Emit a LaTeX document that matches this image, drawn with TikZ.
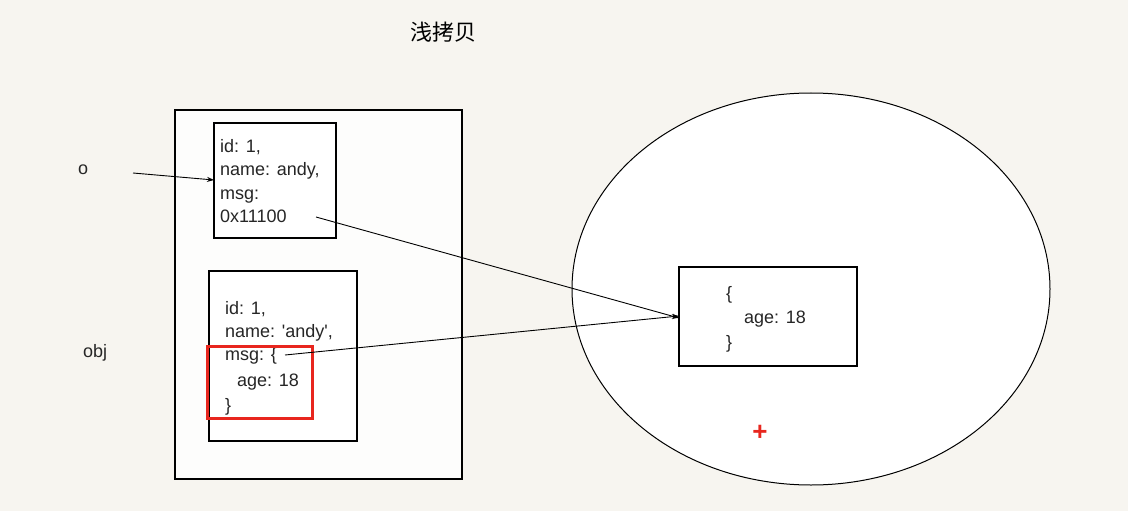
\documentclass[tikz,border=0pt]{standalone}
\usepackage{fontspec}
\setmainfont{Liberation Sans}
\newfontfamily\plainsans{Liberation Sans}
\newfontfamily\cjk{Noto Sans CJK SC}
\usetikzlibrary{arrows.meta}
\definecolor{bg}{RGB}{247,245,240}
\definecolor{inner}{RGB}{253,253,252}
\definecolor{redbox}{RGB}{232,38,30}
\tikzset{
  x=1pt, y=-1pt,
  box/.style={draw=black, line width=1.1pt, fill=white},
  ln/.style={anchor=base west, inner sep=0pt, font=\plainsans\fontsize{18}{22}\selectfont, text=black!85},
  conn/.style={line width=0.9pt, -{Stealth[length=7pt,width=5pt]}},
}
\begin{document}
\begin{tikzpicture}
\fill[bg] (0,0) rectangle (1128,511);
\useasboundingbox (0,0) rectangle (1128,511);
% title
\node[inner sep=0pt, font=\cjk\fontsize{22}{26}\selectfont] (title) at (443,32) {浅拷贝};
% outer stack frame
\draw[line width=1.1pt, fill=inner] (175,110) rectangle (462,479);
% heap ellipse
\draw[line width=1pt, fill=white] (811,289) ellipse [x radius=239, y radius=196];
% boxes
\draw[box] (214,123) rectangle (336,238);
\coordinate (b1w) at (214,180);
\draw[box] (209,271) rectangle (357,441);
\draw[box] (679,267) rectangle (857,366);
\coordinate (b3a) at (679,318);
\coordinate (b3b) at (679,316);
% labels
\node[ln] (lo) at (78,174) {o};
\node[ln] (lobj) at (83,357) {obj};
% box1 text
\node[ln] (a1) at (220,152.5) {id: 1,};
\node[ln] (a2) at (220,175.5) {name: andy,};
\node[ln] (a3) at (220,199) {msg:};
\node[ln] (a4) at (220,222.5) {0x11100};
% box2 text
\node[ln] (c1) at (225,314.5) {id: 1,};
\node[ln] (c2) at (225,337.5) {name: 'andy',};
\node[ln] (c3) at (225,360.5) {msg: \{};
\node[ln] (c4) at (237,386.5) {age: 18};
\node[ln] (c5) at (225,411) {\}};
% box3 text
\node[ln] (d1) at (726,299.5) {\{};
\node[ln] (d2) at (744,323.5) {age: 18};
\node[ln] (d3) at (726,348.5) {\}};
% red highlight
\draw[redbox, line width=3pt] (207.5,346.5) rectangle (312.5,418.5);
% red plus
\node[inner sep=0pt, text=redbox, font=\bfseries\fontsize{26}{28}\selectfont] (plus) at (760,433) {+};
% connectors
\coordinate (os) at (133,173);
\coordinate (ptr) at (316,217);
\coordinate (msg) at (285,355);
\draw[conn] (os) -- (b1w);
\draw[conn] (ptr) -- (b3a);
\draw[conn] (msg) -- (b3b);
\end{tikzpicture}
\end{document}
